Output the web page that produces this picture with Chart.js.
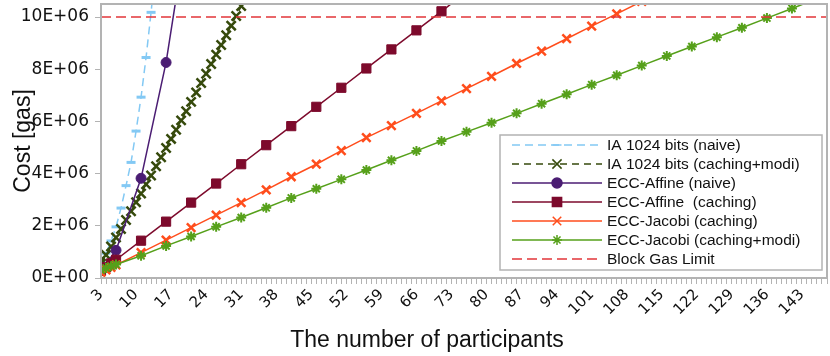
<!DOCTYPE html>
<html>
<head>
<meta charset="utf-8">
<script src="https://cdn.jsdelivr.net/npm/chart.js@4.4.0/dist/chart.umd.min.js"></script>
<style>
  html, body { margin: 0; padding: 0; background: #fff; }
</style>
</head>
<body>
<canvas id="costChart" width="830" height="356"></canvas>
<script>
// participants shown on the x axis (one tick per participant, label every 7th)
const xTickLabels = [3, 10, 17, 24, 31, 38, 45, 52, 59, 66, 73, 80, 87, 94, 101, 108, 115, 122, 129, 136, 143];
const yTickValues = [0, 2, 4, 6, 8, 10];
const yTickLabels = ["0E+00", "2E+06", "4E+06", "6E+06", "8E+06", "10E+06"];

// cost in millions of gas
const iaNaiveN = [3, 4, 5, 6, 7, 8, 9, 10, 11, 12, 13, 14];
const iaNaiveCost = [0.6, 0.95, 1.42, 1.96, 2.68, 3.54, 4.43, 5.63, 6.93, 8.45, 10.18, 12.1];

const iaModiN = [3, 4, 5, 6, 7, 8, 9, 10, 11, 12, 13, 14, 15, 16, 17, 18, 19, 20, 21, 22, 23, 24, 25, 26, 27, 28, 29, 30, 31, 32];
const iaModiCost = [0.55, 0.88, 1.21, 1.55, 1.88, 2.22, 2.56, 2.90, 3.24, 3.59, 3.93, 4.28, 4.63, 4.98, 5.33,
  5.68, 6.04, 6.39, 6.75, 7.11, 7.47, 7.83, 8.20, 8.56, 8.93, 9.30, 9.67, 10.04, 10.42, 10.79];

const affineNaiveN = [3, 6, 11, 16, 21];
const affineNaiveCost = [0.3, 1.06, 3.82, 8.26, 14.4];

const affineCacheN = [3, 4, 5, 6, 11, 16, 21, 26, 31, 36, 41, 46, 51, 56, 61, 66, 71, 76];
const affineCacheCost = [0.27, 0.41, 0.56, 0.70, 1.43, 2.16, 2.89, 3.62, 4.36, 5.09, 5.82, 6.56, 7.29, 8.03, 8.76, 9.49, 10.22, 10.96];

const jacobiCacheN = [3, 4, 5, 6, 11, 16, 21, 26, 31, 36, 41, 46, 51, 56, 61, 66, 71, 76, 81, 86, 91, 96, 101, 106, 111];
const jacobiCacheCost = [0.22, 0.31, 0.41, 0.50, 0.97, 1.45, 1.93, 2.41, 2.89, 3.38, 3.88, 4.36, 4.88, 5.38, 5.84,
  6.31, 6.79, 7.26, 7.73, 8.22, 8.69, 9.17, 9.65, 10.12, 10.60];

const jacobiModiN = [3, 4, 5, 6, 11, 16, 21, 26, 31, 36, 41, 46, 51, 56, 61, 66, 71, 76, 81, 86, 91, 96, 101, 106,
  111, 116, 121, 126, 131, 136, 141, 146];
const jacobiModiCost = [0.30, 0.38, 0.45, 0.52, 0.85, 1.23, 1.59, 1.96, 2.32, 2.69, 3.07, 3.42, 3.78, 4.14, 4.51,
  4.87, 5.25, 5.60, 5.95, 6.31, 6.68, 7.04, 7.41, 7.77, 8.14, 8.51, 8.87, 9.23, 9.59, 9.96, 10.33, 10.70];

const gasLimitN = [3, 148];
const gasLimitCost = [10, 10];

function pts(xs, ys) {
  return xs.map((x, i) => ({ x: x, y: ys[i] }));
}

const series = [
  { label: "IA 1024 bits (naive)", xs: iaNaiveN, ys: iaNaiveCost, color: "#83c9f4", dash: [8, 5], style: "line", r: 4.5, bw: 3 },
  { label: "IA 1024 bits (caching+modi)", xs: iaModiN, ys: iaModiCost, color: "#364a0c", dash: [7, 5], style: "crossRot", r: 6.5, bw: 2.5 },
  { label: "ECC-Affine (naive)", xs: affineNaiveN, ys: affineNaiveCost, color: "#4b1d73", dash: [], style: "circle", r: 5, bw: 1 },
  { label: "ECC-Affine  (caching)", xs: affineCacheN, ys: affineCacheCost, color: "#7d0a2c", dash: [], style: "rect", r: 6.5, bw: 1 },
  { label: "ECC-Jacobi (caching)", xs: jacobiCacheN, ys: jacobiCacheCost, color: "#ff4d1c", dash: [], style: "crossRot", r: 6, bw: 2.5 },
  { label: "ECC-Jacobi (caching+modi)", xs: jacobiModiN, ys: jacobiModiCost, color: "#56a01a", dash: [], style: "star", r: 5, bw: 2 },
  { label: "Block Gas Limit", xs: gasLimitN, ys: gasLimitCost, color: "#e2363a", dash: [10, 5], style: false, r: 0, bw: 0 }
];

const datasets = series.map((s, i) => ({
  label: s.label,
  data: pts(s.xs, s.ys),
  borderColor: s.color,
  backgroundColor: s.color,
  borderWidth: 1.5,
  borderDash: s.dash,
  pointStyle: s.style,
  pointRadius: s.r,
  pointBorderWidth: s.bw,
  pointBorderColor: s.color,
  pointBackgroundColor: s.color,
  tension: 0,
  order: series.length - i
}));

// plot frame and the x axis title (centred on the page, not on the plot)
const frame = {
  id: "frame",
  afterDatasetsDraw(chart) {
    const a = chart.chartArea;
    const ctx = chart.ctx;
    ctx.save();
    ctx.strokeStyle = "#b3b3b3";
    ctx.lineWidth = 2;
    ctx.strokeRect(a.left, a.top, a.right - a.left, a.bottom - a.top);
    ctx.fillStyle = "#111";
    ctx.font = "23px 'Liberation Sans'";
    ctx.textAlign = "center";
    ctx.textBaseline = "middle";
    ctx.fillText("The number of participants", 427, 341);
    ctx.restore();
  }
};

const lineLegend = {
  id: "lineLegend",
  afterDraw(chart) {
    const ctx = chart.ctx;
    const bx = 500, by = 135, bw = 322, bh = 135;
    ctx.save();
    ctx.fillStyle = "#fff";
    ctx.fillRect(bx, by, bw, bh);
    ctx.strokeStyle = "#b3b3b3";
    ctx.lineWidth = 1.5;
    ctx.strokeRect(bx, by, bw, bh);
    ctx.font = "15.5px 'Liberation Sans'";
    ctx.textBaseline = "middle";
    chart.data.datasets.forEach((ds, i) => {
      const y = 145 + i * 19;
      ctx.strokeStyle = ds.borderColor;
      ctx.fillStyle = ds.borderColor;
      ctx.lineWidth = 1.5;
      ctx.setLineDash(ds.borderDash);
      ctx.beginPath();
      ctx.moveTo(512, y);
      ctx.lineTo(602, y);
      ctx.stroke();
      ctx.setLineDash([]);
      if (ds.pointStyle) {
        Chart.helpers.drawPoint(ctx, {
          pointStyle: ds.pointStyle,
          radius: ds.pointRadius,
          borderWidth: ds.pointBorderWidth,
          rotation: 0
        }, 557, y);
      }
      ctx.fillStyle = "#111";
      ctx.fillText(ds.label, 607, y + 1);
    });
    ctx.restore();
  }
};

new Chart(document.getElementById("costChart"), {
  type: "line",
  data: { datasets: datasets },
  plugins: [frame, lineLegend],
  options: {
    responsive: false,
    animation: false,
    layout: { autoPadding: false, padding: { top: 4, right: 3, bottom: 0, left: 0 } },
    plugins: {
      legend: { display: false },
      tooltip: { enabled: false }
    },
    scales: {
      x: {
        type: "linear",
        min: 3,
        max: 148,
        afterFit: (axis) => { axis.height = 78; axis.paddingLeft = 0; axis.paddingRight = 0; },
        border: { display: true, color: "#b3b3b3", width: 2 },
        grid: { display: true, drawOnChartArea: false, drawTicks: true, tickLength: 6, color: "#b3b3b3", lineWidth: 1 },
        ticks: {
          stepSize: 1,
          autoSkip: false,
          minRotation: 45,
          maxRotation: 45,
          padding: 2,
          color: "#111",
          font: { family: "'DejaVu Sans'", size: 15 },
          callback: (v) => xTickLabels.includes(v) ? String(v) : ""
        }
      },
      y: {
        min: 0,
        max: 10.5,
        afterFit: (axis) => { axis.width = 101; axis.paddingTop = 0; axis.paddingBottom = 0; },
        afterBuildTicks: (axis) => { axis.ticks = yTickValues.map(v => ({ value: v })); },
        border: { display: true, color: "#b3b3b3", width: 2 },
        grid: { display: true, drawOnChartArea: false, drawTicks: true, tickLength: 6, color: "#b3b3b3", lineWidth: 1 },
        ticks: {
          stepSize: 2,
          padding: 6,
          color: "#111",
          font: { family: "'DejaVu Sans'", size: 17 },
          callback: (v) => yTickLabels[yTickValues.indexOf(v)]
        },
        title: {
          display: true,
          text: "Cost [gas]",
          color: "#111",
          font: { family: "'Liberation Sans'", size: 23 },
          padding: { top: 10, bottom: 0 }
        }
      }
    }
  }
});
</script>
</body>
</html>
